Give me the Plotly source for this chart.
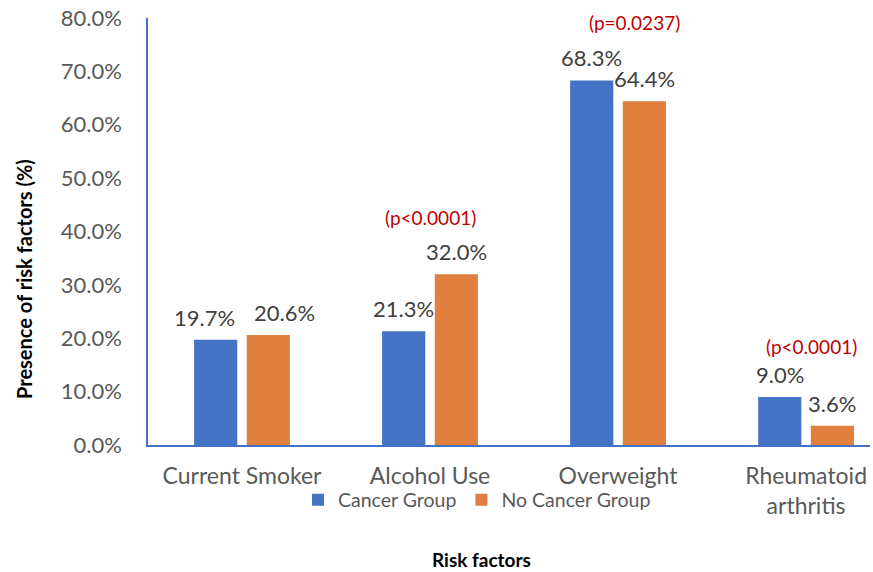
import plotly.graph_objects as go

categories = ["Current Smoker", "Alcohol Use", "Overweight", "Rheumatoid<br>arthritis"]
cancer_group = [0.197, 0.213, 0.683, 0.090]
no_cancer_group = [0.206, 0.320, 0.644, 0.036]
series_names = ["Cancer Group", "No Cancer Group"]

# p-value notes: (category position, height in data units, text)
p_positions = [1.0, 2.09, 3.03]
p_heights = [0.427, 0.792, 0.184]
p_texts = ["(p<0.0001)", "(p=0.0237)", "(p<0.0001)"]

y_ticks = [0.0, 0.1, 0.2, 0.3, 0.4, 0.5, 0.6, 0.7, 0.8]

BLUE = "#4472C4"
ORANGE = "#E07F3E"
FONT = "Lato"
GREY = "#595959"

W, H = 873, 572
L, R, T, B = 148, 3, 18, 127
pw, ph = W - L - R, H - T - B
BARGAP, GROUPGAP = 0.44, 0.18
BAR_OFFSET = (1 - BARGAP) / 4  # centre of each bar relative to its category


def px_x(x):
    return (x - L) / pw


def px_y(y):
    return (H - B - y) / ph


fig = go.Figure()
for name, vals, col in [(series_names[0], cancer_group, BLUE),
                        (series_names[1], no_cancer_group, ORANGE)]:
    fig.add_trace(go.Bar(
        x=categories, y=vals, name=name, marker_color=col,
        marker_line_width=0,
    ))

# value labels above the bars; the two close labels over the first group are spread apart
label_nudge = {(0, 0): -11, (0, 1): 16}
for s, vals in enumerate([cancer_group, no_cancer_group]):
    for i, v in enumerate(vals):
        fig.add_annotation(
            x=i + (2 * s - 1) * BAR_OFFSET, y=v, xref="x", yref="y",
            text=f"{v*100:.1f}%", showarrow=False,
            xanchor="center", yanchor="bottom", yshift=7,
            xshift=label_nudge.get((i, s), 0),
            font=dict(family=FONT, size=22, color="#404040"))

for xp, yp, t in zip(p_positions, p_heights, p_texts):
    fig.add_annotation(x=xp, y=yp, xref="x", yref="y", text=t, showarrow=False,
                       font=dict(family=FONT, size=19, color="#C00000"))

fig.add_annotation(x=px_x(24), y=px_y(279), xref="paper", yref="paper",
                   text="<b>Presence of risk factors (%)</b>",
                   showarrow=False, textangle=-90, xanchor="center", yanchor="middle",
                   font=dict(family=FONT, size=20, color="black"))
fig.add_annotation(x=px_x(481), y=px_y(559), xref="paper", yref="paper",
                   text="<b>Risk factors</b>", xanchor="center", yanchor="middle",
                   showarrow=False, font=dict(family=FONT, size=19, color="black"))

fig.update_layout(
    width=W, height=H,
    margin=dict(l=L, r=R, t=T, b=B, autoexpand=False),
    plot_bgcolor="white", paper_bgcolor="white",
    barmode="group", bargap=BARGAP, bargroupgap=GROUPGAP,
    font=dict(family=FONT, color=GREY),
    legend=dict(orientation="h", xref="container", yref="container",
                x=298 / W, y=1 - 500 / H, xanchor="left", yanchor="middle",
                font=dict(family=FONT, size=19.5, color=GREY),
                itemwidth=30, traceorder="normal", bgcolor="rgba(0,0,0,0)"),
)
fig.update_xaxes(range=[-0.5, 3.34], showline=True, linecolor=BLUE, linewidth=1.5,
                 ticks="outside", ticklen=10, tickcolor="rgba(0,0,0,0)",
                 tickfont=dict(family=FONT, size=23, color=GREY), showgrid=False)
fig.update_yaxes(range=[0, 0.8], tickvals=y_ticks, tickformat=".1%",
                 showline=True, linecolor=BLUE, linewidth=1.5,
                 ticks="outside", ticklen=20, tickcolor="rgba(0,0,0,0)",
                 tickfont=dict(family=FONT, size=22, color=GREY), showgrid=False,
                 zeroline=False)

fig.write_html("out.html")
